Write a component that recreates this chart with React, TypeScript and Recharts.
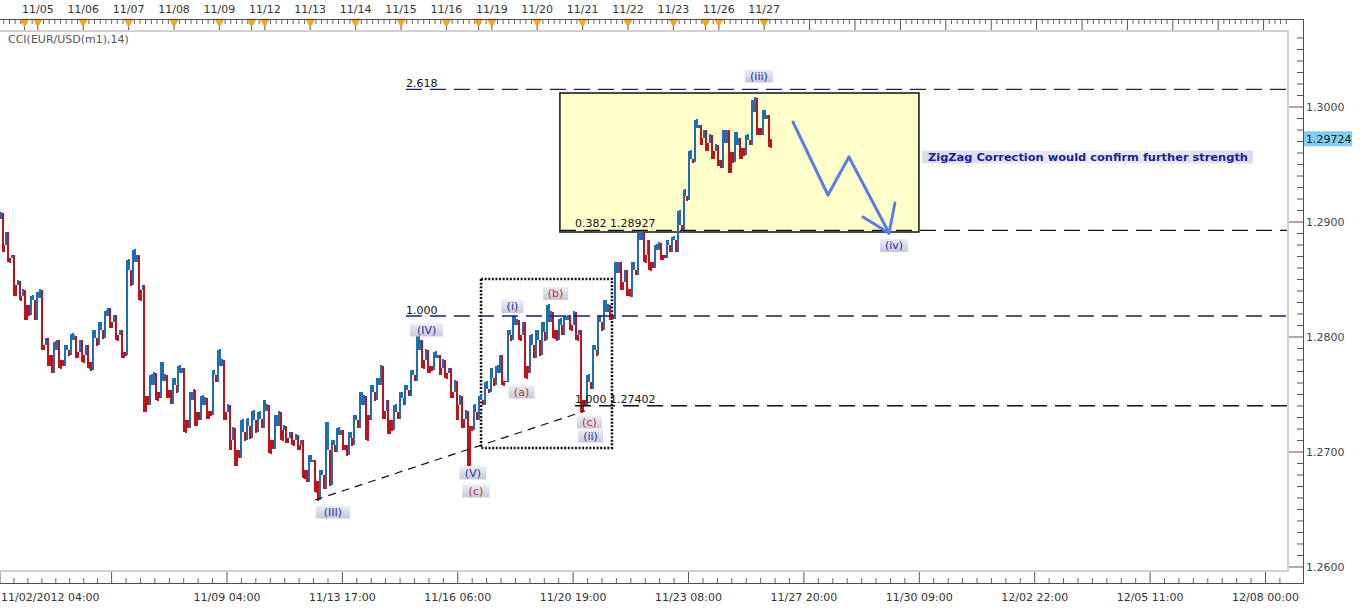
import React from "react";
import {
  ComposedChart, Bar, XAxis, YAxis, ReferenceLine, ReferenceArea, ReferenceDot,
} from "recharts";

const FONT = "'DejaVu Sans', Verdana, sans-serif";

// x = trading hours since 11/02/2012 04:00 (weekends skipped), y = EUR/USD
const X_MAX = 680.9;
const Y_MIN = 1.25965;
const Y_MAX = 1.30661;
const BAR_HOURS = 3;

const opens = [
  1.2903, 1.2880, 1.2869, 1.2845, 1.2836, 1.2828, 1.2832, 1.2834, 1.2793, 1.2784,
  1.2789, 1.2780, 1.2789, 1.2797, 1.2787, 1.2784, 1.2778, 1.2799, 1.2806, 1.2818,
  1.2813, 1.2802, 1.2787, 1.2858, 1.2865, 1.2841, 1.2749, 1.2758, 1.2752, 1.2762,
  1.2754, 1.2758, 1.2769, 1.2728, 1.2745, 1.2735, 1.2741, 1.2736, 1.2767, 1.2775,
  1.2735, 1.2710, 1.2702, 1.2717, 1.2723, 1.2728, 1.2729, 1.2736, 1.2710, 1.2723,
  1.2719, 1.2712, 1.2710, 1.2706, 1.2684, 1.2691, 1.2675, 1.2680, 1.2702, 1.2706,
  1.2715, 1.2706, 1.2712, 1.2728, 1.2741, 1.2732, 1.2752, 1.2758, 1.2736, 1.2728,
  1.2735, 1.2747, 1.2754, 1.2767, 1.2789, 1.2780, 1.2775, 1.2782, 1.2773, 1.2769,
  1.2752, 1.2741, 1.2729, 1.2723, 1.2735, 1.2745, 1.2755, 1.2764, 1.2769, 1.2762,
  1.2802, 1.2810, 1.2802, 1.2775, 1.2793, 1.2797, 1.2804, 1.2813, 1.2806, 1.2810,
  1.2815, 1.2810, 1.2802, 1.2745, 1.2761, 1.2789, 1.2813, 1.2822, 1.2819, 1.2856,
  1.2848, 1.2842, 1.2858, 1.2884, 1.2871, 1.2865, 1.2876, 1.2871, 1.2880, 1.2884,
  1.2897, 1.2923, 1.2955, 1.2982, 1.2973, 1.2969, 1.2962, 1.2954, 1.2969, 1.2961,
  1.2967, 1.2964, 1.2971, 1.2996, 1.2982, 1.2990,
];
const highs = [
  1.2908, 1.2891, 1.2871, 1.2849, 1.2841, 1.2836, 1.2839, 1.2841, 1.2799, 1.2796,
  1.2797, 1.2793, 1.2803, 1.2801, 1.2797, 1.2793, 1.2806, 1.2813, 1.2823, 1.2825,
  1.2819, 1.2806, 1.2867, 1.2876, 1.2871, 1.2845, 1.2767, 1.2769, 1.2778, 1.2767,
  1.2764, 1.2775, 1.2773, 1.2752, 1.2754, 1.2749, 1.2747, 1.2771, 1.2789, 1.2780,
  1.2741, 1.2721, 1.2728, 1.2729, 1.2736, 1.2735, 1.2745, 1.2741, 1.2732, 1.2735,
  1.2723, 1.2717, 1.2715, 1.2710, 1.2697, 1.2693, 1.2684, 1.2726, 1.2710, 1.2721,
  1.2719, 1.2717, 1.2732, 1.2752, 1.2749, 1.2758, 1.2764, 1.2775, 1.2745, 1.2741,
  1.2752, 1.2758, 1.2771, 1.2803, 1.2797, 1.2789, 1.2787, 1.2784, 1.2780, 1.2773,
  1.2762, 1.2749, 1.2736, 1.2741, 1.2749, 1.2761, 1.2773, 1.2775, 1.2784, 1.2806,
  1.2818, 1.2815, 1.2813, 1.2802, 1.2806, 1.2813, 1.2828, 1.2822, 1.2816, 1.2818,
  1.2819, 1.2822, 1.2806, 1.2767, 1.2793, 1.2819, 1.2832, 1.2828, 1.2865, 1.2865,
  1.2858, 1.2865, 1.2891, 1.2893, 1.2884, 1.2880, 1.2882, 1.2884, 1.2887, 1.2910,
  1.2928, 1.2962, 1.2989, 1.2984, 1.2980, 1.2976, 1.2967, 1.2980, 1.2980, 1.2978,
  1.2973, 1.2976, 1.3006, 1.3008, 1.2997, 1.2993,
];
const lows = [
  1.2874, 1.2865, 1.2836, 1.2832, 1.2815, 1.2819, 1.2815, 1.2789, 1.2775, 1.2769,
  1.2773, 1.2775, 1.2784, 1.2782, 1.2778, 1.2773, 1.2771, 1.2793, 1.2799, 1.2808,
  1.2797, 1.2782, 1.2784, 1.2845, 1.2832, 1.2735, 1.2741, 1.2745, 1.2747, 1.2747,
  1.2742, 1.2752, 1.2717, 1.2721, 1.2723, 1.2728, 1.2729, 1.2732, 1.2761, 1.2728,
  1.2702, 1.2688, 1.2695, 1.2710, 1.2712, 1.2717, 1.2721, 1.2699, 1.2703, 1.2710,
  1.2708, 1.2706, 1.2702, 1.2677, 1.2674, 1.2665, 1.2658, 1.2668, 1.2671, 1.2700,
  1.2702, 1.2697, 1.2706, 1.2721, 1.2710, 1.2728, 1.2745, 1.2729, 1.2716, 1.2719,
  1.2729, 1.2741, 1.2749, 1.2762, 1.2773, 1.2769, 1.2771, 1.2767, 1.2764, 1.2747,
  1.2728, 1.2721, 1.2688, 1.2719, 1.2728, 1.2741, 1.2752, 1.2758, 1.2758, 1.2761,
  1.2797, 1.2797, 1.2764, 1.2769, 1.2782, 1.2784, 1.2797, 1.2799, 1.2797, 1.2802,
  1.2806, 1.2797, 1.2735, 1.2741, 1.2755, 1.2784, 1.2806, 1.2815, 1.2816, 1.2841,
  1.2836, 1.2835, 1.2854, 1.2865, 1.2858, 1.2860, 1.2867, 1.2869, 1.2874, 1.2874,
  1.2893, 1.2919, 1.2952, 1.2967, 1.2962, 1.2955, 1.2949, 1.2947, 1.2943, 1.2952,
  1.2955, 1.2958, 1.2967, 1.2976, 1.2976, 1.2965,
];
const closes = [
  1.2880, 1.2869, 1.2845, 1.2836, 1.2828, 1.2832, 1.2834, 1.2793, 1.2784, 1.2789,
  1.2780, 1.2789, 1.2797, 1.2787, 1.2784, 1.2778, 1.2799, 1.2806, 1.2818, 1.2813,
  1.2802, 1.2787, 1.2858, 1.2865, 1.2841, 1.2749, 1.2758, 1.2752, 1.2762, 1.2754,
  1.2758, 1.2769, 1.2728, 1.2745, 1.2735, 1.2741, 1.2736, 1.2767, 1.2775, 1.2735,
  1.2710, 1.2702, 1.2717, 1.2723, 1.2728, 1.2729, 1.2736, 1.2710, 1.2723, 1.2719,
  1.2712, 1.2710, 1.2706, 1.2684, 1.2691, 1.2675, 1.2680, 1.2702, 1.2706, 1.2715,
  1.2706, 1.2712, 1.2728, 1.2741, 1.2732, 1.2752, 1.2758, 1.2736, 1.2728, 1.2735,
  1.2747, 1.2754, 1.2767, 1.2789, 1.2780, 1.2775, 1.2782, 1.2773, 1.2769, 1.2752,
  1.2741, 1.2729, 1.2723, 1.2735, 1.2745, 1.2755, 1.2764, 1.2769, 1.2762, 1.2802,
  1.2810, 1.2802, 1.2775, 1.2793, 1.2797, 1.2804, 1.2813, 1.2806, 1.2810, 1.2815,
  1.2810, 1.2802, 1.2745, 1.2761, 1.2789, 1.2813, 1.2822, 1.2819, 1.2856, 1.2848,
  1.2842, 1.2858, 1.2884, 1.2871, 1.2865, 1.2876, 1.2871, 1.2880, 1.2884, 1.2897,
  1.2923, 1.2955, 1.2982, 1.2973, 1.2969, 1.2962, 1.2954, 1.2969, 1.2961, 1.2967,
  1.2964, 1.2971, 1.2996, 1.2982, 1.2990, 1.29724,
];

const bars = opens.map((o, i) => ({
  t: BAR_HOURS * i + BAR_HOURS / 2,
  open: o, high: highs[i], low: lows[i], close: closes[i],
}));
const LAST_CLOSE = closes[closes.length - 1];

// top axis: trading days
const dayLabels = [
  "11/05", "11/06", "11/07", "11/08", "11/09", "11/12", "11/13", "11/14", "11/15",
  "11/16", "11/19", "11/20", "11/21", "11/22", "11/23", "11/26", "11/27",
];
const DAY0 = 20; // 11/05 00:00
const fridayCloses = [13, 133, 253, 373];

// bottom axis
const bottomMajors = [0, 59, 120, 181, 242, 303, 364, 425, 486, 547, 608, 669];
const bottomLabels = [
  "11/02/2012 04:00", "", "11/09 04:00", "11/13 17:00", "11/16 06:00", "11/20 19:00",
  "11/23 08:00", "11/27 20:00", "11/30 09:00", "12/02 22:00", "12/05 11:00", "12/08 00:00",
];

const topTicks: number[] = [];
for (let h = 2; h <= X_MAX; h += 3) topTicks.push(h);
topTicks.push(...fridayCloses);

const bottomTicks: number[] = [...bottomMajors];
for (let i = 0; i < bottomMajors.length; i++) {
  const a = bottomMajors[i];
  const b = i + 1 < bottomMajors.length ? bottomMajors[i + 1] : a + 61;
  for (let j = 1; j < 8; j++) {
    const v = a + ((b - a) * j) / 8;
    if (v <= X_MAX) bottomTicks.push(v);
  }
}

const priceTicks: number[] = [];
for (let k = 12600; k <= 13060; k += 10) priceTicks.push(k / 10000);
priceTicks.push(LAST_CLOSE);

const RED = "#c0121b";
const BLUE = "#1f6db4";

// each 3h bar drawn as three thin strokes (open leg, full range, close leg),
// which gives the dense tick-bar texture of the source chart
function Candle(props: any) {
  const { x, y, width, height, payload } = props;
  if (!payload || !isFinite(y) || !isFinite(height)) return null;
  const top = Math.min(y, y + height);
  const h = Math.abs(height);
  const cx = x + width / 2;
  const k = h / (payload.high - payload.low);
  const py = (v: number) => top + (payload.high - v) * k;
  const up = payload.close >= payload.open;
  const sw = 2;
  const d = 1.9;
  const common = { strokeWidth: sw, shapeRendering: "crispEdges" as const };
  if (up) {
    return (
      <g>
        <line x1={cx - d} x2={cx - d} y1={py(payload.open)} y2={py(payload.low) + 0.5} stroke={RED} {...common} />
        <line x1={cx} x2={cx} y1={top} y2={top + h} stroke={BLUE} {...common} />
        <line x1={cx + d} x2={cx + d} y1={py(payload.high) - 0.5} y2={py(payload.close)} stroke={BLUE} {...common} />
      </g>
    );
  }
  return (
    <g>
      <line x1={cx - d} x2={cx - d} y1={py(payload.high) - 0.5} y2={py(payload.open)} stroke={BLUE} {...common} />
      <line x1={cx} x2={cx} y1={top} y2={top + h} stroke={RED} {...common} />
      <line x1={cx + d} x2={cx + d} y1={py(payload.close)} y2={py(payload.low) + 0.5} stroke={RED} {...common} />
    </g>
  );
}

function TopTick(props: any) {
  const { x, payload } = props;
  const v = payload.value;
  const k = (v - DAY0) / 24;
  const isDay = v >= DAY0 && Number.isInteger(k);
  const isFri = fridayCloses.includes(v);
  const label = isDay ? dayLabels[k] : undefined;
  if (!isDay && !isFri) {
    return <line x1={x} x2={x} y1={19} y2={24} stroke="#666" />;
  }
  return (
    <g>
      <line x1={x} x2={x} y1={19} y2={31} stroke="#555" />
      {(label || isFri) && (
        <path d={`M${x - 4.5},19 L${x + 4.5},19 L${x},27 Z`} fill="#f6a623" stroke="#e59412" strokeWidth={0.6} />
      )}
      {label && (
        <text x={x} y={13} textAnchor="middle" fontSize={11} fill="#333" fontFamily={FONT}>{label}</text>
      )}
    </g>
  );
}

function BottomTick(props: any) {
  const { x, payload } = props;
  const v = payload.value;
  const mi = bottomMajors.findIndex((m) => Math.abs(m - v) < 1e-6);
  if (mi < 0) return <line x1={x} x2={x} y1={578} y2={583} stroke="#666" />;
  const label = bottomLabels[mi];
  return (
    <g>
      <line x1={x} x2={x} y1={571} y2={583} stroke="#555" />
      {label && (
        <text x={mi === 0 ? x + 1 : x} y={601} textAnchor={mi === 0 ? "start" : "middle"}
          fontSize={11} fill="#333" fontFamily={FONT}>{label}</text>
      )}
    </g>
  );
}

function PriceTick(props: any) {
  const { y, payload } = props;
  const v = payload.value;
  if (v === LAST_CLOSE) {
    return (
      <g>
        <rect x={1303} y={y - 7.5} width={49} height={15} fill="#7fcff2" />
        <text x={1306} y={y + 4} fontSize={11} fill="#1a1a1a" fontFamily={FONT}>{v.toFixed(5)}</text>
      </g>
    );
  }
  const major = Math.round(v * 10000) % 100 === 0;
  if (!major) return <line x1={1297} x2={1303} y1={y} y2={y} stroke="#555" />;
  return (
    <g>
      <line x1={1289} x2={1303} y1={y} y2={y} stroke="#555" />
      <text x={1306} y={y + 4} fontSize={11} fill="#444" fontFamily={FONT}>{v.toFixed(4)}</text>
    </g>
  );
}

const waveTags = [
  { t: 176.0, p: 1.264783, text: "(III)", w: 34, color: "#2a2aa8" },
  { t: 225.5, p: 1.280609, text: "(IV)", w: 33, color: "#2a2aa8" },
  { t: 250.0, p: 1.268174, text: "(V)", w: 27, color: "#2a2aa8" },
  { t: 251.6, p: 1.266609, text: "(c)", w: 27, color: "#d42a2a" },
  { t: 270.9, p: 1.282652, text: "(i)", w: 22, color: "#2a2aa8" },
  { t: 293.7, p: 1.283783, text: "(b)", w: 25, color: "#d42a2a" },
  { t: 275.7, p: 1.275217, text: "(a)", w: 26, color: "#d42a2a" },
  { t: 311.6, p: 1.272609, text: "(c)", w: 25, color: "#d42a2a" },
  { t: 312.2, p: 1.271391, text: "(ii)", w: 25, color: "#2a2aa8" },
  { t: 401.2, p: 1.302696, text: "(iii)", w: 28, color: "#2a2aa8" },
  { t: 472.6, p: 1.287957, text: "(iv)", w: 28, color: "#2a2aa8" },
];

const levelTexts = [
  { t: 214.6, p: 1.301739, text: "2.618" },
  { t: 214.6, p: 1.282, text: "1.000" },
  { t: 304.0, p: 1.289565, text: "0.382 1.28927" },
  { t: 304.0, p: 1.274261, text: "1.000 1.27402" },
];

const levelLines = [
  { t: 214.6, p: 1.301539, color: "#1c1c78" },
  { t: 214.6, p: 1.281826, color: "#1c1c78" },
  { t: 296.0, p: 1.28927, color: "#111" },
  { t: 304.0, p: 1.27402, color: "#111" },
];

// projected zigzag (hand drawn arrow)
const arrowPts = [
  { x: 419.2, y: 1.298696 }, { x: 437.7, y: 1.292348 },
  { x: 448.8, y: 1.295652 }, { x: 470.0, y: 1.289043 },
];
const arrowBarbs = [
  [{ x: 456.2, y: 1.290435 }, { x: 470.0, y: 1.289043 }],
  [{ x: 470.0, y: 1.289043 }, { x: 473.1, y: 1.291652 }],
];

const AX = { xAxisId: "bot", yAxisId: "p" };

export default function App() {
  return (
    <div style={{ position: "absolute", left: 0, top: 0, width: 1360, height: 608, background: "#fff" }}>
      <ComposedChart width={1360} height={608} data={bars} margin={{ top: 0, right: 0, bottom: 0, left: 0 }}>
        <defs>
          <linearGradient id="tagGrad" x1="0" y1="0" x2="0" y2="1">
            <stop offset="0" stopColor="#eceef5" />
            <stop offset="1" stopColor="#c6c9da" />
          </linearGradient>
          <linearGradient id="noteGrad" x1="0" y1="0" x2="1" y2="0">
            <stop offset="0" stopColor="#d9dbe6" />
            <stop offset="0.5" stopColor="#eef0f5" />
            <stop offset="1" stopColor="#d9dbe6" />
          </linearGradient>
        </defs>
        <XAxis xAxisId="top" orientation="top" type="number" dataKey="t" domain={[0, X_MAX]}
          ticks={topTicks} interval={0} height={31} axisLine={false} tickLine={false}
          tick={(p: any) => <TopTick {...p} />} allowDataOverflow />
        <XAxis xAxisId="bot" orientation="bottom" type="number" dataKey="t" domain={[0, X_MAX]}
          ticks={bottomTicks} interval={0} height={37} axisLine={false} tickLine={false}
          tick={(p: any) => <BottomTick {...p} />} allowDataOverflow />
        <YAxis yAxisId="p" orientation="right" type="number" domain={[Y_MIN, Y_MAX]}
          ticks={priceTicks} interval={0} width={72} axisLine={false} tickLine={false}
          tick={(p: any) => <PriceTick {...p} />} allowDataOverflow />

        <ReferenceArea {...AX} x1={296.0} x2={485.8} y1={1.28913} y2={1.30122}
          fill="#ffffc9" fillOpacity={1} stroke="#111" strokeWidth={1.5} />

        {levelLines.map((l, i) => (
          <ReferenceLine key={"lv" + i} {...AX} segment={[{ x: l.t, y: l.p }, { x: X_MAX, y: l.p }]}
            stroke={l.color} strokeWidth={1.3} strokeDasharray="16 8" />
        ))}

        <ReferenceLine {...AX} segment={[{ x: 166.5, y: 1.265826 }, { x: 309.3, y: 1.273565 }]}
          stroke="#111" strokeWidth={1.2} strokeDasharray="8 6" />

        <Bar {...AX} dataKey={(d: any) => [d.low, d.high]} barSize={6}
          shape={(p: any) => <Candle {...p} />} isAnimationActive={false} />

        <ReferenceArea {...AX} x1={254.3} x2={323.5} y1={1.27035} y2={1.28504}
          fill="none" fillOpacity={0} stroke="#111" strokeWidth={2.6} strokeDasharray="2 1.6" />

        {arrowPts.slice(1).map((pt, i) => (
          <ReferenceLine key={"ar" + i} {...AX} segment={[arrowPts[i], pt]}
            stroke="#5a7ee6" strokeWidth={3} strokeLinecap="round" />
        ))}
        {arrowBarbs.map((s, i) => (
          <ReferenceLine key={"ab" + i} {...AX} segment={s}
            stroke="#5a7ee6" strokeWidth={3} strokeLinecap="round" />
        ))}

        {levelTexts.map((l, i) => (
          <ReferenceDot key={"lt" + i} {...AX} x={l.t} y={l.p} r={0}
            shape={(p: any) => (
              <text x={p.cx} y={p.cy} fontSize={11} fill="#111" fontFamily={FONT}>{l.text}</text>
            )} />
        ))}

        {waveTags.map((w, i) => (
          <ReferenceDot key={"wt" + i} {...AX} x={w.t} y={w.p} r={0}
            shape={(p: any) => (
              <g>
                <rect x={p.cx - w.w / 2} y={p.cy - 6.5} width={w.w} height={13} fill="url(#tagGrad)" />
                <text x={p.cx} y={p.cy + 4} textAnchor="middle" fontSize={11} fill={w.color} fontFamily={FONT}>{w.text}</text>
              </g>
            )} />
        ))}

        <ReferenceDot {...AX} x={487.4} y={1.295652} r={0}
          shape={(p: any) => (
            <g>
              <rect x={p.cx} y={p.cy - 6.5} width={331} height={13} fill="url(#noteGrad)" />
              <text x={p.cx + 6} y={p.cy + 4} fontSize={10} fontWeight="bold" fill="#1c1ca6"
                fontFamily={FONT} textLength={320} lengthAdjust="spacingAndGlyphs">
                ZigZag Correction would confirm further strength
              </text>
            </g>
          )} />
      </ComposedChart>

      <svg width={1360} height={608} style={{ position: "absolute", left: 0, top: 0, pointerEvents: "none" }}>
        <polyline points="0,31 1288,31 1288,571 0,571" fill="none" stroke="#d0d0d0" strokeWidth={2} />
        <line x1={0} x2={1304} y1={19.5} y2={19.5} stroke="#4d4d4d" />
        <line x1={0} x2={1304} y1={583.5} y2={583.5} stroke="#4d4d4d" />
        <line x1={1303.5} x2={1303.5} y1={19} y2={584} stroke="#4d4d4d" />
        <text x={8} y={43} fontSize={11} fill="#555" fontFamily={FONT}>CCI(EUR/USD(m1),14)</text>
      </svg>
    </div>
  );
}
